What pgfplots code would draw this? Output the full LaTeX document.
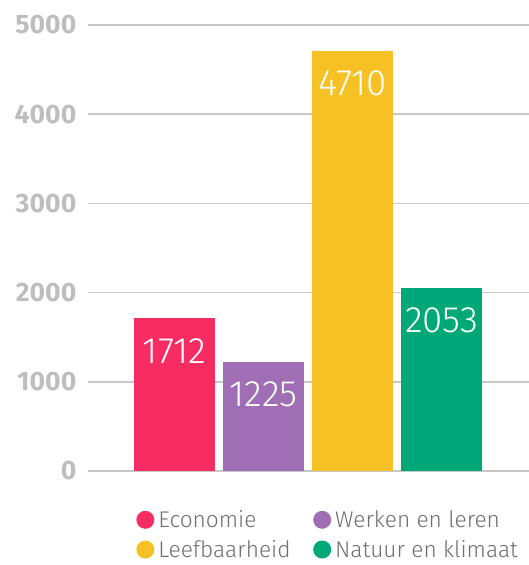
\documentclass[border=0pt]{standalone}
\usepackage{pgfplots}
\pgfplotsset{compat=1.18}
\usepackage{fontspec}
\setmainfont{Fira Sans}
\newfontfamily\lightfont{Fira Sans Light}

\definecolor{cEco}{HTML}{F72C63}
\definecolor{cWerk}{HTML}{A06EB4}
\definecolor{cLeef}{HTML}{F5C124}
\definecolor{cNat}{HTML}{00A878}
\definecolor{gridgrey}{HTML}{C8C8C8}
\definecolor{tickgrey}{HTML}{BEBEBE}
\definecolor{leggrey}{HTML}{6E6E6E}

\begin{document}
\begin{tikzpicture}
    \begin{axis}[
        scale only axis,
        width=330.75pt, height=334.5pt,
        xmin=-0.97, xmax=3.98,
        ymin=0, ymax=5000,
        enlargelimits=false,
        clip=false,
        axis line style={draw=none},
        tick style={draw=none},
        xtick=\empty,
        ytick={0,1000,2000,3000,4000,5000},
        ymajorgrids,
        major grid style={gridgrey, line width=1.1pt},
        /pgf/number format/assume math mode=true,
        /pgf/number format/1000 sep={},
        yticklabel style={font=\bfseries\fontsize{20}{20}\selectfont, text=tickgrey, inner sep=0pt, xshift=-8.5pt},
        ybar, bar width=60.75pt,
        nodes near coords,
        every node near coord/.append style={anchor=center, yshift=-24.5pt,
            font=\lightfont\fontsize{27.5}{27.5}\selectfont, text=white},
        legend columns=2,
        legend cell align=left,
        legend style={draw=none, fill=none, at={(0.1,-0.08)}, anchor=north west,
            font=\lightfont\fontsize{17}{17}\selectfont, text=leggrey,
            nodes={inner ysep=0.5pt, inner xsep=3pt},
            /tikz/every even column/.append style={column sep=14pt},
            row sep=7pt},
        legend image code/.code={\fill[#1] (0.22cm,0cm) circle (6.75pt);},
    ]
        % one plot per category
        \addplot[fill=cEco, draw=none, bar shift=0pt] coordinates {(0,1712)};
        \addlegendentry{Economie}
        \addplot[fill=cWerk, draw=none, bar shift=0pt] coordinates {(1,1225)};
        \addlegendentry{Werken en leren}
        \addplot[fill=cLeef, draw=none, bar shift=0pt] coordinates {(2,4710)};
        \addlegendentry{Leefbaarheid}
        \addplot[fill=cNat, draw=none, bar shift=0pt] coordinates {(3,2053)};
        \addlegendentry{Natuur en klimaat}
    \end{axis}
    \pgfresetboundingbox
    \path[use as bounding box] ([shift={(-66pt,-70.5pt)}]current axis.south west)
        rectangle ([shift={(330.75pt,353.25pt)}]current axis.south west);
\end{tikzpicture}
\end{document}
